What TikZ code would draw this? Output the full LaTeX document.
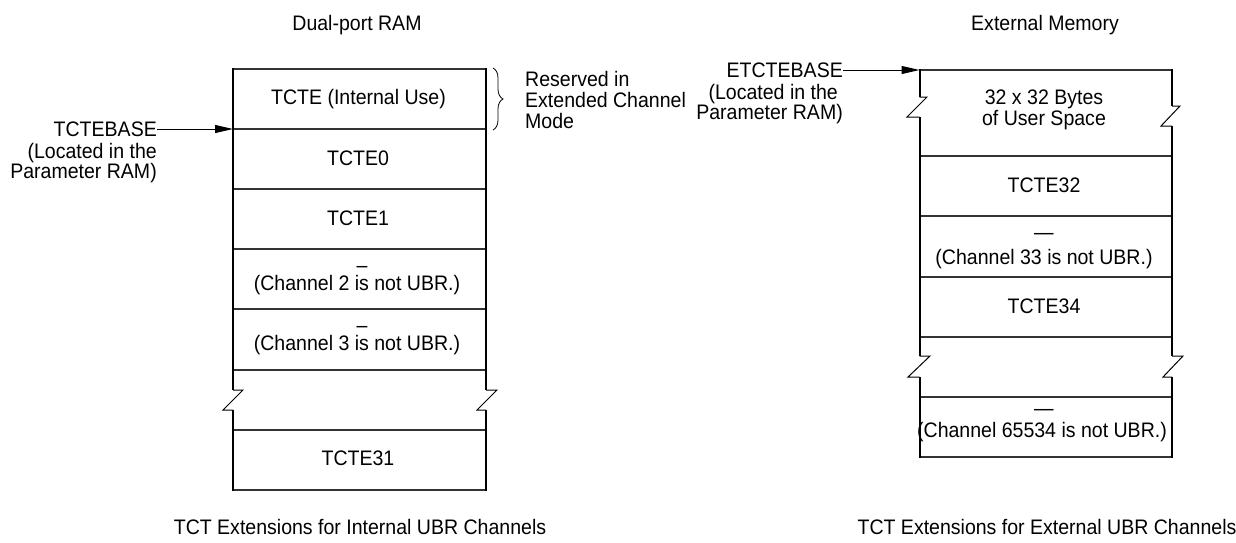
\documentclass[tikz,border=0pt]{standalone}
\usepackage{fontspec}
\setmainfont{Liberation Sans}[FakeStretch=0.93]
\usetikzlibrary{arrows.meta,decorations.pathreplacing}
\begin{document}
\begin{tikzpicture}[x=1pt,y=-1pt,
  txt/.style={inner sep=0pt, font=\fontsize{21pt}{21pt}\selectfont, text height=15pt, text depth=0pt},
  sep/.style={line width=1.1pt, draw=black!80},
  side/.style={line width=2pt, line cap=butt},
  brk/.style={line width=1pt, line join=miter},
  ptr/.style={line width=1pt, -{Triangle[length=18pt,width=8pt]}},
  brc/.style={line width=0.8pt, decorate, decoration={brace, amplitude=10pt}}
]
\useasboundingbox (0,0) rectangle (1236,542);

% ---------- titles and captions ----------
\node[txt] (dpram) at (357,23) {Dual-port RAM};
\node[txt] (extmem) at (1045,23) {External Memory};
\node[txt] (capl) at (360,527) {TCT Extensions for Internal UBR Channels};
\node[txt] (capr) at (1047,527) {TCT Extensions for External UBR Channels};

% ---------- left block (Dual-port RAM) ----------
\foreach \yy in {69,129,189,249,309,370,430,490}
  \draw[sep] (233,\yy) -- (486,\yy);
\draw[side] (233,68) -- (233,390);
\draw[brk] (233,390) -- (243,390) -- (223,410) -- (233,410);
\draw[side] (233,410) -- (233,491);
\draw[side] (486,68) -- (486,390);
\draw[brk] (486,390) -- (497,390) -- (477,410) -- (486,410);
\draw[side] (486,410) -- (486,491);

\node[txt] (li) at (358.5,97) {TCTE (Internal Use)};
\node[txt] (l0) at (358,158) {TCTE0};
\node[txt] (l1) at (358,218) {TCTE1};
\node[txt] (l2d) at (362,265) {–};
\node[txt] (l2) at (357,282.5) {(Channel 2 is not UBR.)};
\node[txt] (l3d) at (362,325) {–};
\node[txt] (l3) at (357,343) {(Channel 3 is not UBR.)};
\node[txt] (l31) at (358,458) {TCTE31};

\draw[brc] (493,68) -- (493,130);
\node[txt,anchor=west] (res1) at (525,79) {Reserved in};
\node[txt,anchor=west] (res2) at (525,100) {Extended Channel};
\node[txt,anchor=west] (res3) at (525,121) {Mode};

\node[txt,anchor=east] (tb) at (157,129) {TCTEBASE};
\node[txt,anchor=east] (tb2) at (157,151) {(Located in the};
\node[txt,anchor=east] (tb3) at (157,171) {Parameter RAM)};
\coordinate (lA) at (233,129);
\draw[ptr] (tb.east) -- (lA);

% ---------- right block (External Memory) ----------
\foreach \yy in {70,156,216,277,337,397,457}
  \draw[sep] (919.5,\yy) -- (1172,\yy);
\draw[side] (919.5,69) -- (919.5,97);
\draw[brk] (919.5,97) -- (927,97) -- (907,117) -- (919.5,117);
\draw[side] (919.5,117) -- (919.5,356);
\draw[brk] (919.5,356) -- (930,356) -- (908,377) -- (919.5,377);
\draw[side] (919.5,377) -- (919.5,458);
\draw[side] (1172,69) -- (1172,106);
\draw[brk] (1172,106) -- (1180,106) -- (1161,126) -- (1172,126);
\draw[side] (1172,126) -- (1172,356);
\draw[brk] (1172,356) -- (1183,356) -- (1163,377) -- (1172,377);
\draw[side] (1172,377) -- (1172,458);

\node[txt] (ru1) at (1044,97) {32 x 32 Bytes};
\node[txt] (ru2) at (1044,118) {of User Space};
\node[txt] (r32) at (1044,185) {TCTE32};
\node[txt] (r33d) at (1044,232) {—};
\node[txt] (r33) at (1044,257) {(Channel 33 is not UBR.)};
\node[txt] (r34) at (1044,306) {TCTE34};
\node[txt] (rld) at (1044,408) {—};
\node[txt] (rl) at (1042,430) {(Channel 65534 is not UBR.)};

\node[txt,anchor=east] (etb) at (843,70) {ETCTEBASE};
\node[txt,anchor=east] (etb2) at (838,92) {(Located in the};
\node[txt,anchor=east] (etb3) at (843,112) {Parameter RAM)};
\coordinate (rA) at (919.5,70);
\draw[ptr] (etb.east) -- (rA);
\end{tikzpicture}
\end{document}
